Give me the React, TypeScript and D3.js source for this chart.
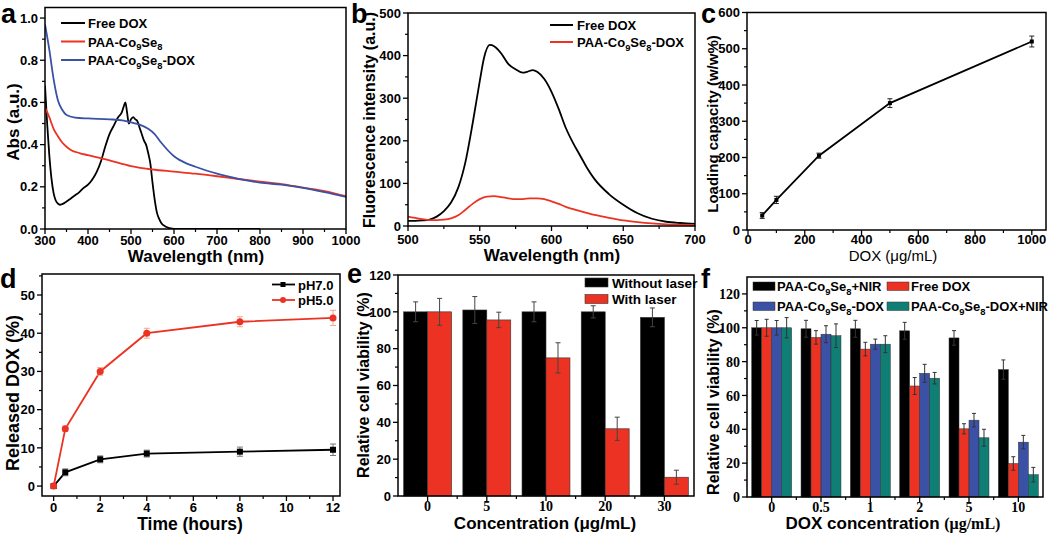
import React from "react";
import * as d3 from "d3";

const SANS = "'Liberation Sans', Arial, Helvetica, sans-serif";
const SERIF = "'Liberation Serif', 'Times New Roman', serif";

const RED = "#ec3323";
const BLUE = "#3a51a6";
const TEAL = "#0f7f76";

// ---------- Panel a : UV-vis absorbance ----------
const aFreeX = [300, 305, 310, 315, 320, 325, 330, 335, 340, 350, 360, 370, 380, 390, 400, 410, 420, 430, 440, 450, 460, 470, 478, 483, 487, 491, 495, 500, 505, 510, 515, 520, 525, 530, 535, 540, 545, 550, 555, 560, 565, 570, 580, 590, 600, 650, 700, 750, 800];
const aFreeY = [0.68, 0.5, 0.35, 0.24, 0.17, 0.135, 0.12, 0.115, 0.118, 0.13, 0.145, 0.16, 0.175, 0.195, 0.21, 0.235, 0.27, 0.32, 0.39, 0.45, 0.49, 0.53, 0.55, 0.58, 0.6, 0.55, 0.5, 0.52, 0.53, 0.52, 0.51, 0.48, 0.45, 0.42, 0.4, 0.36, 0.31, 0.22, 0.14, 0.08, 0.05, 0.03, 0.012, 0.004, 0, 0, 0, 0, 0];
const aCoX = [300, 310, 320, 330, 340, 350, 360, 380, 400, 450, 500, 550, 600, 650, 700, 750, 800, 850, 900, 950, 1000];
const aCoY = [0.575, 0.53, 0.475, 0.44, 0.41, 0.39, 0.375, 0.36, 0.35, 0.325, 0.298, 0.282, 0.272, 0.262, 0.25, 0.237, 0.225, 0.213, 0.196, 0.18, 0.155];
const aDoxX = [300, 310, 320, 330, 340, 350, 370, 400, 450, 480, 500, 520, 540, 555, 570, 600, 630, 650, 700, 750, 800, 850, 900, 950, 1000];
const aDoxY = [0.97, 0.85, 0.71, 0.61, 0.565, 0.54, 0.528, 0.524, 0.52, 0.515, 0.505, 0.495, 0.475, 0.45, 0.41, 0.345, 0.31, 0.295, 0.262, 0.238, 0.22, 0.21, 0.195, 0.175, 0.152];
const aLegend = ["Free DOX", "PAA-Co_9Se_8", "PAA-Co_9Se_8-DOX"];

// ---------- Panel b : fluorescence ----------
const bFreeX = [500, 505, 510, 515, 520, 525, 530, 535, 540, 545, 550, 553, 557, 560, 565, 570, 575, 580, 583, 587, 590, 595, 600, 605, 610, 615, 620, 625, 630, 640, 650, 660, 670, 680, 690, 700];
const bFreeY = [12, 12, 13, 15, 22, 35, 55, 90, 150, 240, 340, 395, 425, 422, 405, 380, 368, 360, 362, 366, 362, 345, 315, 275, 230, 195, 165, 135, 110, 75, 50, 30, 17, 10, 7, 5];
const bDoxX = [500, 505, 510, 515, 520, 525, 530, 535, 540, 545, 550, 555, 560, 565, 570, 575, 580, 585, 590, 595, 600, 605, 610, 620, 630, 640, 650, 660, 670, 680, 690, 700];
const bDoxY = [22, 19, 16, 14, 14, 15, 18, 25, 38, 52, 63, 69, 70, 68, 65, 63, 63, 65, 65, 63, 58, 52, 45, 35, 26, 19, 13, 9, 6, 4, 3, 2];
const bLegend = ["Free DOX", "PAA-Co_9Se_8-DOX"];

// ---------- Panel c : loading capacity ----------
const cDose = [50, 100, 250, 500, 1000];
const cLoad = [40, 83, 205, 350, 520];
const cErr = [8, 10, 7, 12, 15];

// ---------- Panel d : release ----------
const dTime = [0, 0.5, 2, 4, 8, 12];
const dPH7 = [0, 3.6, 7, 8.5, 9, 9.5];
const dPH7Err = [0.5, 0.9, 0.9, 0.9, 1.2, 1.5];
const dPH5 = [0, 15, 30, 40, 43, 44];
const dPH5Err = [0.5, 0.7, 1.0, 1.3, 1.3, 2.0];
const dLegend = ["pH7.0", "pH5.0"];

// ---------- Panel e : photothermal viability ----------
const eConc = ["0", "5", "10", "20", "30"];
const eWithout = [100, 101, 100, 100, 97];
const eWithoutErr = [5.4, 7.3, 5.4, 3.3, 5.1];
const eWith = [100, 95.6, 75, 36.5, 10.2];
const eWithErr = [7.3, 4.2, 8.2, 6.3, 3.8];
const eLegend = ["Without laser", "With laser"];

// ---------- Panel f : combined therapy ----------
const fConc = ["0", "0.5", "1", "2", "5", "10"];
const fSeriesNames = ["PAA-Co_9Se_8+NIR", "Free DOX", "PAA-Co_9Se_8-DOX", "PAA-Co_9Se_8-DOX+NIR"];
const fNir = [100, 99.4, 99.4, 98.2, 94, 75.3];
const fNirErr = [4.3, 5, 5, 5, 4.3, 5.7];
const fFree = [100, 94.3, 87.4, 65.6, 40.3, 19.8];
const fFreeErr = [5, 4, 4, 5, 3, 4];
const fDox = [100, 96.2, 90.3, 73.1, 45.4, 32.4];
const fDoxErr = [4.3, 5, 3, 5.3, 4, 4];
const fDoxNir = [100, 95.3, 90.3, 70.2, 35, 13.2];
const fDoxNirErr = [6, 7, 5, 3.4, 5, 4.3];

// ---------- helpers ----------
function Rich({ s, x, y, size, family = SANS, weight = "bold", anchor = "start", fill = "#000" }: any) {
  const parts: { t: string; sub: boolean }[] = [];
  let buf = "";
  for (let i = 0; i < s.length; i++) {
    if (s[i] === "_" && i + 1 < s.length) {
      if (buf) parts.push({ t: buf, sub: false });
      buf = "";
      parts.push({ t: s[i + 1], sub: true });
      i++;
    } else buf += s[i];
  }
  if (buf) parts.push({ t: buf, sub: false });
  const off = size * 0.3;
  let cur = 0;
  return (
    <text x={x} y={y} fontFamily={family} fontWeight={weight} fontSize={size} textAnchor={anchor} fill={fill}>
      {parts.map((p, i) => {
        const target = p.sub ? off : 0;
        const dy = target - cur;
        cur = target;
        return (
          <tspan key={i} dy={dy} fontSize={p.sub ? size * 0.72 : size}>
            {p.t}
          </tspan>
        );
      })}
    </text>
  );
}

function Frame({ x0, x1, y0, y1 }: any) {
  return <rect x={x0} y={y0} width={x1 - x0} height={y1 - y0} fill="none" stroke="#000" strokeWidth={1.5} />;
}

function LeftAxis({ x0, majors, minors, family = SANS, size = 13 }: any) {
  return (
    <g>
      {minors.map((p: number, i: number) => (
        <line key={"m" + i} x1={x0} x2={x0 - 3} y1={p} y2={p} stroke="#000" strokeWidth={1.2} />
      ))}
      {majors.map((m: any, i: number) => (
        <g key={i}>
          <line x1={x0} x2={x0 - 5} y1={m.p} y2={m.p} stroke="#000" strokeWidth={1.3} />
          <text x={x0 - 7} y={m.p} dy="0.36em" textAnchor="end" fontFamily={family} fontWeight="bold" fontSize={size}>
            {m.t}
          </text>
        </g>
      ))}
    </g>
  );
}

function BottomAxis({ y0, majors, minors, labelY, family = SANS, size = 13 }: any) {
  return (
    <g>
      {minors.map((p: number, i: number) => (
        <line key={"m" + i} x1={p} x2={p} y1={y0} y2={y0 + 3} stroke="#000" strokeWidth={1.2} />
      ))}
      {majors.map((m: any, i: number) => (
        <g key={i}>
          <line x1={m.p} x2={m.p} y1={y0} y2={y0 + 5} stroke="#000" strokeWidth={1.3} />
          <text x={m.p} y={labelY} dy="0.36em" textAnchor="middle" fontFamily={family} fontWeight="bold" fontSize={size}>
            {m.t}
          </text>
        </g>
      ))}
    </g>
  );
}

function YTitle({ x, y, text, size = 17, weight = "bold" }: any) {
  return (
    <text transform={`translate(${x},${y}) rotate(-90)`} textAnchor="middle" dy="0.35em" fontFamily={SANS} fontWeight={weight} fontSize={size}>
      {text}
    </text>
  );
}

function XTitle({ x, y, text, size = 17, weight = "bold" }: any) {
  return (
    <text x={x} y={y} textAnchor="middle" fontFamily={SANS} fontWeight={weight} fontSize={size}>
      {text}
    </text>
  );
}

function Letter({ x, y, t }: any) {
  return (
    <text x={x} y={y} fontFamily={SANS} fontWeight="bold" fontSize={27}>
      {t}
    </text>
  );
}

const linTicks = (s: any, vals: number[], fmt: (v: number) => string) => vals.map((v) => ({ p: s(v), t: fmt(v) }));

function ErrBar({ x, y1, y2, w, color = "#333", sw = 1 }: any) {
  return (
    <g stroke={color} strokeWidth={sw}>
      <line x1={x} x2={x} y1={y1} y2={y2} />
      <line x1={x - w / 2} x2={x + w / 2} y1={y1} y2={y1} />
      <line x1={x - w / 2} x2={x + w / 2} y1={y2} y2={y2} />
    </g>
  );
}

// ---------- Panels ----------
function PanelA() {
  const L = 45, R = 346, T = 7.5, B = 229;
  const x = d3.scaleLinear().domain([300, 1000]).range([L, R]);
  const y = d3.scaleLinear().domain([0, 1.05]).range([B, T]);
  const mk = (xs: number[], ys: number[]) =>
    d3.line<number>().x((d) => x(d)).y((_, i) => y(ys[i])).curve(d3.curveMonotoneX)(xs) as string;
  const series = [
    { xs: aFreeX, ys: aFreeY, c: "#000" },
    { xs: aCoX, ys: aCoY, c: RED },
    { xs: aDoxX, ys: aDoxY, c: BLUE },
  ];
  return (
    <g>
      <defs>
        <clipPath id="clipA">
          <rect x={L} y={T} width={R - L} height={B - T} />
        </clipPath>
      </defs>
      <g clipPath="url(#clipA)">
        {series.map((s, i) => (
          <path key={i} d={mk(s.xs, s.ys)} fill="none" stroke={s.c} strokeWidth={1.8} />
        ))}
      </g>
      <Frame x0={L} x1={R} y0={T} y1={B} />
      <LeftAxis x0={L} majors={linTicks(y, d3.range(0, 1.01, 0.2), d3.format(".1f"))} minors={d3.range(0.1, 1.05, 0.2).map(y)} />
      <BottomAxis y0={B} labelY={240} majors={linTicks(x, d3.range(300, 1001, 100), String)} minors={d3.range(350, 1000, 100).map(x)} />
      {series.map((s, i) => (
        <g key={i}>
          <line x1={61} x2={85} y1={23 + i * 18.5} y2={23 + i * 18.5} stroke={s.c} strokeWidth={2} />
          <Rich s={aLegend[i]} x={88} y={28 + i * 18.5} size={13} />
        </g>
      ))}
      <YTitle x={13} y={122} text="Abs (a.u.)" />
      <XTitle x={196} y={262} text="Wavelength (nm)" />
      <Letter x={1} y={23} t="a" />
    </g>
  );
}

function PanelB() {
  const L = 408, R = 695, T = 13, B = 226;
  const x = d3.scaleLinear().domain([500, 700]).range([L, R]);
  const y = d3.scaleLinear().domain([0, 500]).range([B, T]);
  const mk = (xs: number[], ys: number[]) =>
    d3.line<number>().x((d) => x(d)).y((_, i) => y(ys[i])).curve(d3.curveMonotoneX)(xs) as string;
  const series = [
    { xs: bFreeX, ys: bFreeY, c: "#000" },
    { xs: bDoxX, ys: bDoxY, c: RED },
  ];
  return (
    <g>
      {series.map((s, i) => (
        <path key={i} d={mk(s.xs, s.ys)} fill="none" stroke={s.c} strokeWidth={1.8} />
      ))}
      <Frame x0={L} x1={R} y0={T} y1={B} />
      <LeftAxis x0={L} majors={linTicks(y, d3.range(0, 501, 100), String)} minors={d3.range(50, 500, 100).map(y)} />
      <BottomAxis y0={B} labelY={239} majors={linTicks(x, d3.range(500, 701, 50), String)} minors={d3.range(525, 700, 50).map(x)} />
      {series.map((s, i) => (
        <g key={i}>
          <line x1={550} x2={573} y1={25 + i * 17} y2={25 + i * 17} stroke={s.c} strokeWidth={2} />
          <Rich s={bLegend[i]} x={577} y={30 + i * 17} size={13} />
        </g>
      ))}
      <YTitle x={369} y={120} text="Fluorescence intensity (a.u.)" size={16} />
      <XTitle x={552} y={261} text="Wavelength (nm)" />
      <Letter x={351} y={23} t="b" />
    </g>
  );
}

function PanelC() {
  const L = 747, R = 1046, T = 12.5, B = 230;
  const x = d3.scaleLinear().domain([0, 1050]).range([748, R]);
  const y = d3.scaleLinear().domain([0, 600]).range([B, T]);
  const path = d3.line<number>().x((d) => x(d)).y((_, i) => y(cLoad[i]))(cDose) as string;
  return (
    <g>
      <path d={path} fill="none" stroke="#000" strokeWidth={1.8} />
      {cDose.map((d, i) => (
        <g key={i}>
          <ErrBar x={x(d)} y1={y(cLoad[i] - cErr[i])} y2={y(cLoad[i] + cErr[i])} w={5} color="#222" />
          <rect x={x(d) - 2} y={y(cLoad[i]) - 2} width={4} height={4} fill="#000" />
        </g>
      ))}
      <Frame x0={L} x1={R} y0={T} y1={B} />
      <LeftAxis x0={L} majors={linTicks(y, d3.range(0, 601, 100), String)} minors={d3.range(50, 600, 100).map(y)} />
      <BottomAxis y0={B} labelY={239} majors={linTicks(x, d3.range(0, 1001, 200), String)} minors={d3.range(100, 1000, 200).map(x)} />
      <YTitle x={713} y={124} text="Loading capacity (w/w%)" size={15} />
      <XTitle x={893} y={261} text="DOX (μg/mL)" size={15} weight="normal" />
      <Letter x={701} y={23} t="c" />
    </g>
  );
}

function PanelD() {
  const L = 42, R = 340, T = 274, B = 496;
  const x = d3.scaleLinear().domain([-0.5, 12.3]).range([L, R]);
  const y = d3.scaleLinear().domain([-2.6, 55.5]).range([B, T]);
  const mk = (vals: number[]) => d3.line<number>().x((d) => x(d)).y((_, i) => y(vals[i]))(dTime) as string;
  return (
    <g>
      <path d={mk(dPH7)} fill="none" stroke="#000" strokeWidth={1.8} />
      <path d={mk(dPH5)} fill="none" stroke={RED} strokeWidth={1.8} />
      {dTime.map((t, i) => (
        <g key={i}>
          <ErrBar x={x(t)} y1={y(dPH7[i] - dPH7Err[i])} y2={y(dPH7[i] + dPH7Err[i])} w={6} color="#777" />
          <ErrBar x={x(t)} y1={y(dPH5[i] - dPH5Err[i])} y2={y(dPH5[i] + dPH5Err[i])} w={6} color="#f2a58a" />
          <rect x={x(t) - 3} y={y(dPH7[i]) - 3} width={6} height={6} fill="#000" />
          <circle cx={x(t)} cy={y(dPH5[i])} r={3.5} fill={RED} />
        </g>
      ))}
      <Frame x0={L} x1={R} y0={T} y1={B} />
      <LeftAxis x0={L} majors={linTicks(y, d3.range(0, 51, 10), String)} minors={d3.range(5, 56, 10).map(y)} />
      <BottomAxis y0={B} labelY={507} majors={linTicks(x, d3.range(0, 13, 2), String)} minors={d3.range(1, 12, 2).map(x)} />
      <g>
        <line x1={272} x2={295} y1={284.5} y2={284.5} stroke="#000" strokeWidth={1.8} />
        <rect x={280.5} y={282} width={5} height={5} fill="#000" />
        <text x={298} y={289.5} fontFamily={SANS} fontWeight="bold" fontSize={13}>{dLegend[0]}</text>
        <line x1={272} x2={295} y1={300} y2={300} stroke={RED} strokeWidth={1.8} />
        <circle cx={283} cy={300} r={3} fill={RED} />
        <text x={298} y={305} fontFamily={SANS} fontWeight="bold" fontSize={13}>{dLegend[1]}</text>
      </g>
      <YTitle x={13} y={393} text="Released DOX (%)" size={18} />
      <XTitle x={190} y={530} text="Time (hours)" size={17.5} />
      <Letter x={0} y={288} t="d" />
    </g>
  );
}

function PanelE() {
  const L = 398, R = 694, T = 275, B = 496;
  const x = d3.scaleBand<string>().domain(eConc).range([L, R]).paddingInner(0.19).paddingOuter(0.095);
  const y = d3.scaleLinear().domain([0, 120]).range([B, T]);
  const bw = x.bandwidth() / 2;
  const groups = [
    { v: eWithout, e: eWithoutErr, c: "#000" },
    { v: eWith, e: eWithErr, c: RED },
  ];
  const centers = eConc.map((c) => (x(c) as number) + x.bandwidth() / 2);
  const minors = eConc.slice(0, -1).map((c) => (x(c) as number) + x.bandwidth() + (x.step() - x.bandwidth()) / 2);
  return (
    <g>
      {eConc.map((c, i) =>
        groups.map((g, j) => {
          const bx = (x(c) as number) + j * bw;
          return (
            <g key={c + j}>
              <rect x={bx} y={y(g.v[i])} width={bw} height={B - y(g.v[i])} fill={g.c} stroke="#333" strokeWidth={0.6} />
              <ErrBar x={bx + bw / 2} y1={y(g.v[i] - g.e[i])} y2={y(g.v[i] + g.e[i])} w={5} color="#444" />
            </g>
          );
        })
      )}
      <Frame x0={L} x1={R} y0={T} y1={B} />
      <LeftAxis x0={L} majors={linTicks(y, d3.range(0, 121, 20), String)} minors={d3.range(10, 120, 20).map(y)} />
      <BottomAxis y0={B} labelY={506} family={SERIF} size={14} majors={eConc.map((c, i) => ({ p: centers[i], t: c }))} minors={minors} />
      {groups.map((g, j) => (
        <g key={j}>
          <rect x={585} y={278 + j * 16.5} width={23} height={9} fill={g.c} stroke="#333" strokeWidth={0.6} />
          <text x={612} y={287.5 + j * 16.5} fontFamily={SANS} fontWeight="bold" fontSize={13.5}>{eLegend[j]}</text>
        </g>
      ))}
      <YTitle x={363} y={385} text="Relative cell viability (%)" size={16} />
      <XTitle x={545} y={529} text="Concentration (μg/mL)" size={17} />
      <Letter x={347} y={283} t="e" />
    </g>
  );
}

function PanelF() {
  const L = 747, R = 1043, T = 277, B = 497;
  const x = d3.scaleBand<string>().domain(fConc).range([L, R]).paddingInner(0.19).paddingOuter(0.095);
  const y = d3.scaleLinear().domain([0, 130]).range([B, T]);
  const bw = x.bandwidth() / 4;
  const groups = [
    { v: fNir, e: fNirErr, c: "#000" },
    { v: fFree, e: fFreeErr, c: RED },
    { v: fDox, e: fDoxErr, c: BLUE },
    { v: fDoxNir, e: fDoxNirErr, c: TEAL },
  ];
  const centers = fConc.map((c) => (x(c) as number) + x.bandwidth() / 2);
  const minors = fConc.slice(0, -1).map((c) => (x(c) as number) + x.bandwidth() + (x.step() - x.bandwidth()) / 2);
  const legPos = [
    { rx: 753, ry: 282 },
    { rx: 887, ry: 282 },
    { rx: 753, ry: 302 },
    { rx: 887, ry: 302 },
  ];
  return (
    <g>
      {fConc.map((c, i) =>
        groups.map((g, j) => {
          const bx = (x(c) as number) + j * bw;
          return (
            <g key={c + j}>
              <rect x={bx} y={y(g.v[i])} width={bw} height={B - y(g.v[i])} fill={g.c} stroke="#333" strokeWidth={0.5} />
              <ErrBar x={bx + bw / 2} y1={y(g.v[i] - g.e[i])} y2={y(g.v[i] + g.e[i])} w={4} color="#333" />
            </g>
          );
        })
      )}
      <Frame x0={L} x1={R} y0={T} y1={B} />
      <LeftAxis x0={L} family={SERIF} size={14} majors={linTicks(y, d3.range(0, 121, 20), String)} minors={d3.range(10, 130, 20).map(y)} />
      <BottomAxis y0={B} labelY={507} family={SERIF} size={14} majors={fConc.map((c, i) => ({ p: centers[i], t: c }))} minors={minors} />
      {groups.map((g, j) => (
        <g key={j}>
          <rect x={legPos[j].rx} y={legPos[j].ry} width={22} height={8.5} fill={g.c} stroke="#333" strokeWidth={0.5} />
          <Rich s={fSeriesNames[j]} x={legPos[j].rx + 24} y={legPos[j].ry + 9} size={13} />
        </g>
      ))}
      <YTitle x={713} y={402} text="Relative cell viability (%)" size={16} />
      <text x={893} y={529} textAnchor="middle" fontWeight="bold" fontSize={17} fontFamily={SANS}>
        DOX concentration <tspan fontFamily={SERIF} fontSize={16}>(μg/mL)</tspan>
      </text>
      <Letter x={701} y={288} t="f" />
    </g>
  );
}

export default function App() {
  return (
    <svg width={1050} height={534} style={{ position: "absolute", left: 0, top: 0, background: "#fff" }}>
      <rect width={1050} height={534} fill="#fff" />
      <PanelA />
      <PanelB />
      <PanelC />
      <PanelD />
      <PanelE />
      <PanelF />
    </svg>
  );
}
